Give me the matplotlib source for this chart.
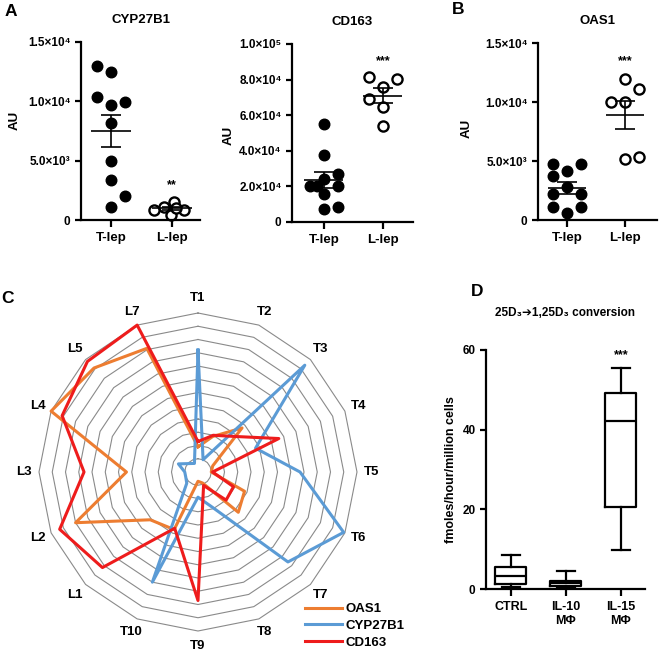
import matplotlib.pyplot as plt
import numpy as np

plt.rcParams['font.family'] = ['Liberation Sans', 'DejaVu Sans']
plt.rcParams['font.weight'] = 'bold'
plt.rcParams['axes.labelweight'] = 'bold'

W, H = 659, 656

# Panel A / B: dot plots (AU)
cyp_t = [12980, 12470, 10370, 9690, 9940, 8170, 4970, 3370, 2020, 1100]
cyp_l = [850, 1100, 1550, 850, 450, 1050]
cd163_t = [55060, 37640, 26970, 24160, 20220, 20220, 20220, 15730, 7300, 8430]
cd163_l = [81460, 80340, 75840, 69100, 64600, 53930]
oas1_t = [4750, 4750, 3730, 4150, 2770, 2200, 2200, 1100, 1100, 590]
oas1_l = [11950, 11100, 10000, 10000, 5170, 5340]

# beeswarm offsets in pixels (layout only)
cyp_t_off = [-14, 0, -14, 0, 14, 0, 0, 0, 14, 0]
cyp_l_off = [-18, -8, 2, 12, -1, 4]
cd163_t_off = [0, 0, 14, 0, -14, -7, 14, 0, 0, 14]
cd163_l_off = [-14, 14, 0, -14, 0, 0]
oas1_t_off = [-14, 14, -14, 0, 0, -14, 14, -14, 14, 0]
oas1_l_off = [0, 14, -14, 0, 0, 14]

# Panel C: radar values (in ring units 0-12)
cats = ['T1', 'T2', 'T3', 'T4', 'T5', 'T6', 'T7', 'T8', 'T9', 'T10',
        'L1', 'L2', 'L3', 'L4', 'L5', 'L7']
r_oas1 = [1.9, 2.9, 4.7, 1.2, 1.0, 3.8, 4.3, 0.9, 0.7, 4.7, 5.1, 10.0, 5.4, 12.0, 11.1, 10.1]
r_cyp = [9.2, 1.0, 11.4, 4.7, 7.7, 11.9, 9.6, 2.9, 1.9, 9.0, 1.2, 1.0, 1.0, 1.6, 0.9, 0.7]
r_cd163 = [2.3, 3.0, 3.8, 6.6, 1.1, 2.9, 3.0, 1.1, 9.7, 4.6, 10.2, 11.3, 8.6, 11.1, 11.8, 12.0]

# Panel D: box plot stats
groups = ['CTRL', 'IL-10\nMΦ', 'IL-15\nMΦ']
whislo = [0.5, 0.3, 9.8]
q1 = [1.3, 0.8, 20.6]
med = [3.3, 1.5, 42.2]
q3 = [5.5, 2.0, 49.2]
whishi = [8.5, 4.5, 55.5]


def rect(x0, y0, x1, y1):
    return [x0 / W, 1 - y1 / H, (x1 - x0) / W, (y1 - y0) / H]


def fpos(x, y):
    return x / W, 1 - y / H


fig = plt.figure(figsize=(6.59, 6.56), dpi=100)


def style(ax):
    for s in ['top', 'right']:
        ax.spines[s].set_visible(False)
    for s in ['left', 'bottom']:
        ax.spines[s].set_linewidth(1.6)
    ax.tick_params(width=1.6, length=4, labelsize=8.5)
    for lab in ax.get_xticklabels() + ax.get_yticklabels():
        lab.set_fontweight('bold')


def dot_panel(box, upp, t_vals, t_off, l_vals, l_off, ymax, ticks, labels, title, stars, xlim):
    ax = fig.add_axes(box)
    ax.set_xlim(*xlim)
    ax.set_ylim(0, ymax)
    tx = np.array(t_off) / upp
    lx = 1 + np.array(l_off) / upp
    ax.plot(tx, t_vals, 'o', color='black', ms=7.6, clip_on=False, zorder=2)
    ax.plot(lx, l_vals, 'o', mfc='white', mec='black', mew=1.7, ms=7.3,
            clip_on=False, zorder=2)
    for c, v in [(0, t_vals), (1, l_vals)]:
        v = np.array(v, float)
        m = v.mean()
        s = v.std(ddof=1) / np.sqrt(len(v))
        ax.hlines(m, c - 0.33, c + 0.33, color='black', lw=1.2, zorder=3)
        ax.vlines(c, m - s, m + s, color='black', lw=1.2, zorder=3)
        ax.hlines([m - s, m + s], c - 0.17, c + 0.17, color='black', lw=1.2, zorder=3)
    ax.set_xticks([0, 1])
    ax.set_xticklabels(['T-lep', 'L-lep'], fontsize=9.5)
    ax.set_yticks(ticks)
    ax.set_yticklabels(labels)
    ax.set_title(title, fontsize=9.5, fontweight='bold', pad=14)
    ax.text(1, stars[1], stars[0], ha='center', va='center', fontsize=9)
    style(ax)
    ax.tick_params(axis='x', labelsize=9.5, length=5)
    return ax


ax1 = dot_panel(rect(81, 42, 200, 220), 61, cyp_t, cyp_t_off, cyp_l, cyp_l_off,
                15000, [0, 5000, 10000, 15000],
                ['0', '5.0×10³', '1.0×10⁴', '1.5×10⁴'], 'CYP27B1', ('**', 2900),
                (-0.49, 1.46))
ax2 = dot_panel(rect(292, 44, 413, 222), 59, cd163_t, cd163_t_off, cd163_l, cd163_l_off,
                100000, [0, 20000, 40000, 60000, 80000, 100000],
                ['0', '2.0×10⁴', '4.0×10⁴', '6.0×10⁴', '8.0×10⁴', '1.0×10⁵'],
                'CD163', ('***', 90500), (-0.54, 1.51))
ax3 = dot_panel(rect(538, 43, 657, 220), 58, oas1_t, oas1_t_off, oas1_l, oas1_l_off,
                15000, [0, 5000, 10000, 15000],
                ['0', '5.0×10³', '1.0×10⁴', '1.5×10⁴'], 'OAS1', ('***', 13500),
                (-0.5, 1.55))

for x, y in [(15, 120), (229, 135), (467, 128)]:
    fig.text(*fpos(x, y), 'AU', rotation=90, ha='center', va='center', fontsize=9.5)

# Panel C radar
n = len(cats)
ang = np.arange(n) * 2 * np.pi / n
axr = fig.add_axes(rect(39, 313, 357, 631), projection='polar')
axr.set_theta_zero_location('N')
axr.set_theta_direction(-1)
axr.set_ylim(0, 12)
axr.set_axis_off()
closed = np.append(ang, ang[0])
for k in range(1, 13):
    axr.plot(closed, [k] * (n + 1), color='#8a8a8a', lw=0.8, clip_on=False, zorder=1)
handles = []
for vals, col, name in [(r_oas1, '#ED7D31', 'OAS1'), (r_cyp, '#5B9BD5', 'CYP27B1'),
                        (r_cd163, '#EE1C1C', 'CD163')]:
    ln, = axr.plot(closed, np.append(vals, vals[0]), color=col, lw=2.2,
                   clip_on=False, zorder=2, label=name)
    handles.append(ln)
for a, c in zip(ang, cats):
    axr.text(a, 13.1, c, ha='center', va='center', fontsize=9.5, fontweight='bold')

fig.legend(handles=handles, loc='upper left', bbox_to_anchor=fpos(305, 603),
           frameon=False, fontsize=9.5, handlelength=2.8, handletextpad=0.25,
           labelspacing=0.35, borderpad=0, borderaxespad=0)

# Panel D box plot
axd = fig.add_axes(rect(486, 350, 645, 589))
stats = [dict(whislo=a, q1=b, med=c, q3=d, whishi=e, fliers=[])
         for a, b, c, d, e in zip(whislo, q1, med, q3, whishi)]
lp = dict(color='black', lw=1.6)
axd.bxp(stats, positions=[0, 1, 2], widths=0.56, capwidths=0.33, showfliers=False,
        boxprops=lp, whiskerprops=lp, capprops=lp, medianprops=lp)
axd.set_xlim(-0.45, 2.44)
axd.set_ylim(0, 60)
axd.set_yticks([0, 20, 40, 60])
axd.set_xticks([0, 1, 2])
axd.set_xticklabels(groups, fontsize=9)
axd.set_ylabel('fmoles/hour/million cells', fontsize=9, labelpad=4)
axd.text(2, 58.7, '***', ha='center', va='center', fontsize=9)
style(axd)
axd.tick_params(axis='x', labelsize=9, length=5)
fig.text(*fpos(565, 313), '25D₃➔1,25D₃ conversion', ha='center', va='center', fontsize=8.5)

# panel letters
for x, y, s in [(11, 12, 'A'), (458, 10, 'B'), (8, 298, 'C'), (477, 292, 'D')]:
    fig.text(*fpos(x, y), s, ha='center', va='center', fontsize=12.5, fontweight='bold')

fig.savefig('out.png', dpi=100)
